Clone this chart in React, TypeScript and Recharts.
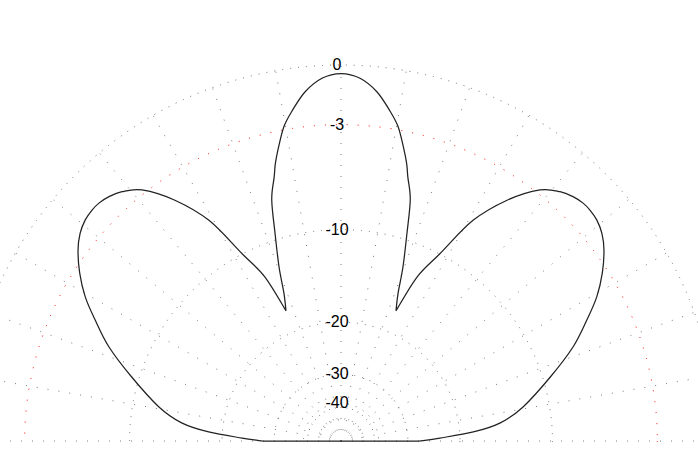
import React from 'react';
import { RadarChart, Radar, PolarGrid, PolarAngleAxis, PolarRadiusAxis } from 'recharts';

// angle from zenith in degrees (negative = left half)
const angles = [
  -90, -88.3, -86.1, -83.5, -79.4, -73, -67.9, -63.8, -60.6, -57.2, -54, -51.5, -49.2, -47.2, -45.5, -43.6, -41.3, -38.4, -34.6, -30.9, -27.8, -24.9,
  -22.9,
  -21.1, -19.6, -17.6, -16, -14.2, -13.3, -12, -10.3, -8.5, -5.9, -3, 0, 3, 5.9, 8.5, 10.3, 12, 13.3, 14.2, 16, 17.6, 19.6, 21.1,
  22.9,
  24.9, 27.8, 30.9, 34.6, 38.4, 41.3, 43.6, 45.5, 47.2, 49.2, 51.5, 54, 57.2, 60.6, 63.8, 67.9, 73, 79.4, 83.5, 86.1, 88.3, 90,
];

// pattern gain in dB at each angle
const gainDb = [
  -27.2, -23.2, -18.1, -14.8, -12.3, -9.4, -7.05, -5.5, -4.3, -3.3, -2.53, -2.09, -1.85, -1.77, -1.78, -1.9, -2.17, -2.78, -4.36, -6.6, -10.0, -12.7,
  -17.0,
  -15.0, -12.35, -9.45, -7.0, -5.6, -4.8, -3.9, -2.83, -2.1, -1.2, -0.6, -0.4, -0.6, -1.2, -2.1, -2.83, -3.9, -4.8, -5.6, -7.0, -9.45, -12.35, -15.0,
  -17.0,
  -12.7, -10.0, -6.6, -4.36, -2.78, -2.17, -1.9, -1.78, -1.77, -1.85, -2.09, -2.53, -3.3, -4.3, -5.5, -7.05, -9.4, -12.3, -14.8, -18.1, -23.2, -27.2,
];

// nulls where the lobes meet in a cusp
const nullAngles = [-22.9, 22.9];

const ringDb = [0, -3, -10, -20, -30, -40, -50];
const labelDb = [0, -3, -10, -20, -30, -40];
const spokeAngles = [-90, -80, -70, -60, -50, -40, -30, -20, -10, 0, 10, 20, 30, 40, 50, 60, 70, 80, 90];

// log radial scale: radius = 10^(dB/40)
const toRadius = (db: number) => Math.pow(10, db / 40);
const toDb = (r: number) => Math.round(40 * Math.log10(r));

const data = angles.map((a, i) => ({ angle: a, r: toRadius(gainDb[i]) }));

type Pt = { x: number; y: number };

// Catmull-Rom through the points of one lobe
function smooth(pts: Pt[]) {
  let d = `M${pts[0].x},${pts[0].y}`;
  for (let i = 0; i < pts.length - 1; i++) {
    const p0 = pts[i - 1] || pts[i];
    const p1 = pts[i];
    const p2 = pts[i + 1];
    const p3 = pts[i + 2] || p2;
    const c1x = p1.x + (p2.x - p0.x) / 6;
    const c1y = p1.y + (p2.y - p0.y) / 6;
    const c2x = p2.x - (p3.x - p1.x) / 6;
    const c2y = p2.y - (p3.y - p1.y) / 6;
    d += ` C${c1x},${c1y} ${c2x},${c2y} ${p2.x},${p2.y}`;
  }
  return d;
}

const PatternShape = (props: any) => {
  const points = props.points || [];
  if (!points.length) return null;
  const segs: Pt[][] = [[]];
  points.forEach((p: any) => {
    segs[segs.length - 1].push(p);
    if (nullAngles.includes(p.payload.angle)) segs.push([p]);
  });
  const d = segs.map(smooth).join(' ') + ` L${points[0].x},${points[0].y}`;
  return <path d={d} fill="none" stroke="#222" strokeWidth={1.25} />;
};

const DbTick = (props: any) => {
  const { x, y, payload } = props;
  const db = toDb(payload.value);
  if (!labelDb.includes(db)) return <g />;
  return (
    <text x={x - 4} y={y + 5} textAnchor="middle" fontSize={16} fill="#000" fontFamily="'Liberation Sans', Arial, sans-serif">
      {db}
    </text>
  );
};

export default function App() {
  return (
    <div style={{ position: 'absolute', left: 0, top: 0, width: 698, height: 442, overflow: 'hidden', background: '#fff' }}>
      <style>{`
        .recharts-polar-grid-concentric circle:nth-of-type(2) { stroke: #ff0000; stroke-dasharray: 1 10; }
        .recharts-polar-grid-angle line { stroke: #7a7a7a; stroke-dasharray: 1 10; }
      `}</style>
      <RadarChart
        width={698}
        height={455}
        data={data}
        cx={341}
        cy={441}
        innerRadius={0}
        outerRadius={376}
        startAngle={180}
        endAngle={0}
        margin={{ top: 0, right: 0, bottom: 0, left: 0 }}
      >
        <PolarAngleAxis
          type="number"
          dataKey="angle"
          domain={[-90, 90]}
          ticks={spokeAngles}
          tick={false}
          axisLine={false}
          tickLine={false}
        />
        <PolarRadiusAxis
          type="number"
          domain={[0, 1]}
          ticks={ringDb.map(toRadius)}
          angle={90}
          axisLine={false}
          tick={DbTick}
        />
        <PolarGrid gridType="circle" stroke="#707070" strokeDasharray="1 7" />
        <Radar
          dataKey="r"
          stroke="#222"
          fill="none"
          dot={false}
          shape={PatternShape}
          isAnimationActive={false}
        />
      </RadarChart>
    </div>
  );
}
